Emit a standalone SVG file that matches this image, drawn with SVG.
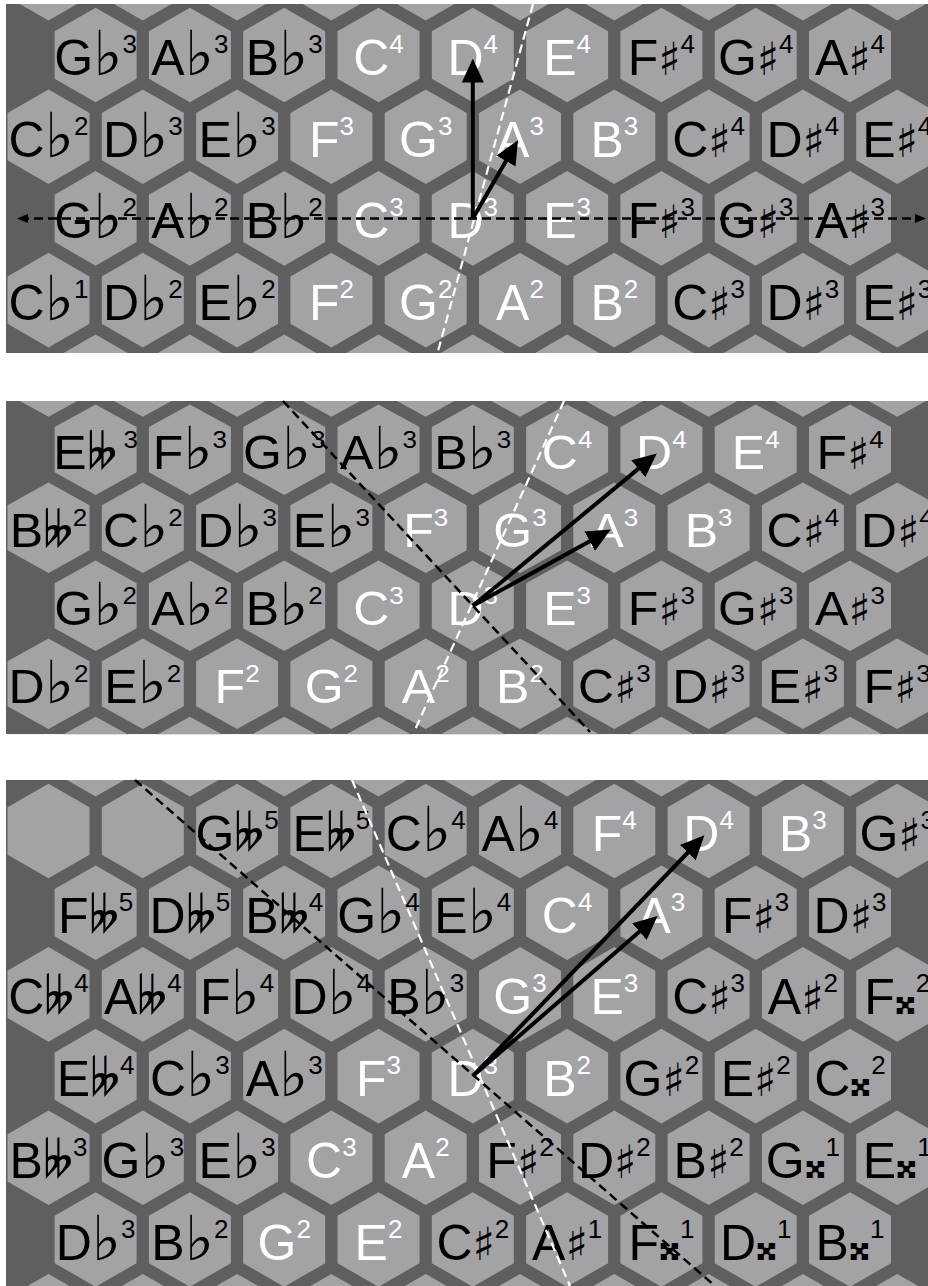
<svg xmlns="http://www.w3.org/2000/svg" xmlns:xlink="http://www.w3.org/1999/xlink" width="928" height="1286" viewBox="0 0 928 1286">
<style>
.bg{fill:#5f5f5f}
use{fill:#a3a3a6}
.t{font-family:"Liberation Sans",Arial,sans-serif;font-size:50px;text-anchor:middle}
.w{fill:#ffffff}
.k{fill:#000000}
.f{font-family:"DejaVu Sans",sans-serif;font-size:62px}
.h{font-family:"DejaVu Sans",sans-serif;font-size:46px}
.ff{font-family:"DejaVu Sans",sans-serif;font-size:50px}
.x{font-family:"DejaVu Sans",sans-serif;font-size:46px}
.s{font-size:26px}
.bd{stroke:#000;stroke-width:2.5;stroke-dasharray:9 5;fill:none}
.wd{stroke:#fff;stroke-width:2.2;stroke-dasharray:9 5;fill:none}
.ar{stroke:#000;stroke-width:4;fill:none;marker-end:url(#ah)}
</style>
<defs>
<path id="h" d="M0,-47.3L41,-23.65L41,23.65L0,47.3L-41,23.65L-41,-23.65Z"/>
<clipPath id="c1"><rect x="6" y="0" width="922" height="349"/></clipPath>
<clipPath id="c3"><rect x="6" y="0" width="922" height="506"/></clipPath>
<marker id="ah" markerUnits="userSpaceOnUse" markerWidth="24" markerHeight="22" refX="14" refY="11" orient="auto" viewBox="0 0 24 22"><path d="M0,0L24,11L0,22Z" fill="#000"/></marker>
<marker id="ahs" markerUnits="userSpaceOnUse" markerWidth="11" markerHeight="9" refX="8" refY="4.5" orient="auto-start-reverse" viewBox="0 0 11 9"><path d="M0,0L11,4.5L0,9Z" fill="#000"/></marker>
</defs>
<rect width="928" height="1286" fill="#fff"/>

<!-- PANEL 1 -->
<g id="panel1" transform="translate(0,4)" clip-path="url(#c1)">
<rect class="bg" x="6" y="0" width="922" height="349"/>
<g id="p1-edge">
<use href="#h" x="48.5" y="-30.7"/><use href="#h" x="142.8" y="-30.7"/><use href="#h" x="237.1" y="-30.7"/><use href="#h" x="331.4" y="-30.7"/><use href="#h" x="425.7" y="-30.7"/><use href="#h" x="520" y="-30.7"/><use href="#h" x="614.3" y="-30.7"/><use href="#h" x="708.6" y="-30.7"/><use href="#h" x="802.9" y="-30.7"/><use href="#h" x="897.2" y="-30.7"/>
<use href="#h" x="95.6" y="377.8"/><use href="#h" x="189.9" y="377.8"/><use href="#h" x="284.2" y="377.8"/><use href="#h" x="378.5" y="377.8"/><use href="#h" x="472.8" y="377.8"/><use href="#h" x="567.1" y="377.8"/><use href="#h" x="661.4" y="377.8"/><use href="#h" x="755.7" y="377.8"/><use href="#h" x="850" y="377.8"/>
</g>
<g id="p1-Gb3" transform="translate(95.6,51)"><use href="#h"/><text class="t k" y="20">G<tspan class="f">♭</tspan><tspan class="s" dy="-22">3</tspan></text></g>
<g id="p1-Ab3" transform="translate(189.9,51)"><use href="#h"/><text class="t k" y="20">A<tspan class="f">♭</tspan><tspan class="s" dy="-22">3</tspan></text></g>
<g id="p1-Bb3" transform="translate(284.2,51)"><use href="#h"/><text class="t k" y="20">B<tspan class="f">♭</tspan><tspan class="s" dy="-22">3</tspan></text></g>
<g id="p1-C4" transform="translate(378.5,51)"><use href="#h"/><text class="t w" y="20">C<tspan class="s" dy="-22">4</tspan></text></g>
<g id="p1-D4" transform="translate(472.8,51)"><use href="#h"/><text class="t w" y="20">D<tspan class="s" dy="-22">4</tspan></text></g>
<g id="p1-E4" transform="translate(567.1,51)"><use href="#h"/><text class="t w" y="20">E<tspan class="s" dy="-22">4</tspan></text></g>
<g id="p1-Fs4" transform="translate(661.4,51)"><use href="#h"/><text class="t k" y="20">F<tspan class="h">♯</tspan><tspan class="s" dy="-22">4</tspan></text></g>
<g id="p1-Gs4" transform="translate(755.7,51)"><use href="#h"/><text class="t k" y="20">G<tspan class="h">♯</tspan><tspan class="s" dy="-22">4</tspan></text></g>
<g id="p1-As4" transform="translate(850,51)"><use href="#h"/><text class="t k" y="20">A<tspan class="h">♯</tspan><tspan class="s" dy="-22">4</tspan></text></g>

<g id="p1-Cb2" transform="translate(48.5,132.7)"><use href="#h"/><text class="t k" y="20">C<tspan class="f">♭</tspan><tspan class="s" dy="-22">2</tspan></text></g>
<g id="p1-Db3" transform="translate(142.8,132.7)"><use href="#h"/><text class="t k" y="20">D<tspan class="f">♭</tspan><tspan class="s" dy="-22">3</tspan></text></g>
<g id="p1-Eb3" transform="translate(237.1,132.7)"><use href="#h"/><text class="t k" y="20">E<tspan class="f">♭</tspan><tspan class="s" dy="-22">3</tspan></text></g>
<g id="p1-F3" transform="translate(331.4,132.7)"><use href="#h"/><text class="t w" y="20">F<tspan class="s" dy="-22">3</tspan></text></g>
<g id="p1-G3" transform="translate(425.7,132.7)"><use href="#h"/><text class="t w" y="20">G<tspan class="s" dy="-22">3</tspan></text></g>
<g id="p1-A3" transform="translate(520,132.7)"><use href="#h"/><text class="t w" y="20">A<tspan class="s" dy="-22">3</tspan></text></g>
<g id="p1-B3" transform="translate(614.3,132.7)"><use href="#h"/><text class="t w" y="20">B<tspan class="s" dy="-22">3</tspan></text></g>
<g id="p1-Cs4" transform="translate(708.6,132.7)"><use href="#h"/><text class="t k" y="20">C<tspan class="h">♯</tspan><tspan class="s" dy="-22">4</tspan></text></g>
<g id="p1-Ds4" transform="translate(802.9,132.7)"><use href="#h"/><text class="t k" y="20">D<tspan class="h">♯</tspan><tspan class="s" dy="-22">4</tspan></text></g>
<g id="p1-Es4" transform="translate(897.2,132.7)"><use href="#h"/><text class="t k" y="20">E<tspan class="h">♯</tspan><tspan class="s" dy="-22">4</tspan></text></g>

<g id="p1-Gb2" transform="translate(95.6,214.4)"><use href="#h"/><text class="t k" y="20">G<tspan class="f">♭</tspan><tspan class="s" dy="-22">2</tspan></text></g>
<g id="p1-Ab2" transform="translate(189.9,214.4)"><use href="#h"/><text class="t k" y="20">A<tspan class="f">♭</tspan><tspan class="s" dy="-22">2</tspan></text></g>
<g id="p1-Bb2" transform="translate(284.2,214.4)"><use href="#h"/><text class="t k" y="20">B<tspan class="f">♭</tspan><tspan class="s" dy="-22">2</tspan></text></g>
<g id="p1-C3" transform="translate(378.5,214.4)"><use href="#h"/><text class="t w" y="20">C<tspan class="s" dy="-22">3</tspan></text></g>
<g id="p1-D3" transform="translate(472.8,214.4)"><use href="#h"/><text class="t w" y="20">D<tspan class="s" dy="-22">3</tspan></text></g>
<g id="p1-E3" transform="translate(567.1,214.4)"><use href="#h"/><text class="t w" y="20">E<tspan class="s" dy="-22">3</tspan></text></g>
<g id="p1-Fs3" transform="translate(661.4,214.4)"><use href="#h"/><text class="t k" y="20">F<tspan class="h">♯</tspan><tspan class="s" dy="-22">3</tspan></text></g>
<g id="p1-Gs3" transform="translate(755.7,214.4)"><use href="#h"/><text class="t k" y="20">G<tspan class="h">♯</tspan><tspan class="s" dy="-22">3</tspan></text></g>
<g id="p1-As3" transform="translate(850,214.4)"><use href="#h"/><text class="t k" y="20">A<tspan class="h">♯</tspan><tspan class="s" dy="-22">3</tspan></text></g>

<g id="p1-Cb1" transform="translate(48.5,296.1)"><use href="#h"/><text class="t k" y="20">C<tspan class="f">♭</tspan><tspan class="s" dy="-22">1</tspan></text></g>
<g id="p1-Db2" transform="translate(142.8,296.1)"><use href="#h"/><text class="t k" y="20">D<tspan class="f">♭</tspan><tspan class="s" dy="-22">2</tspan></text></g>
<g id="p1-Eb2" transform="translate(237.1,296.1)"><use href="#h"/><text class="t k" y="20">E<tspan class="f">♭</tspan><tspan class="s" dy="-22">2</tspan></text></g>
<g id="p1-F2" transform="translate(331.4,296.1)"><use href="#h"/><text class="t w" y="20">F<tspan class="s" dy="-22">2</tspan></text></g>
<g id="p1-G2" transform="translate(425.7,296.1)"><use href="#h"/><text class="t w" y="20">G<tspan class="s" dy="-22">2</tspan></text></g>
<g id="p1-A2" transform="translate(520,296.1)"><use href="#h"/><text class="t w" y="20">A<tspan class="s" dy="-22">2</tspan></text></g>
<g id="p1-B2" transform="translate(614.3,296.1)"><use href="#h"/><text class="t w" y="20">B<tspan class="s" dy="-22">2</tspan></text></g>
<g id="p1-Cs3" transform="translate(708.6,296.1)"><use href="#h"/><text class="t k" y="20">C<tspan class="h">♯</tspan><tspan class="s" dy="-22">3</tspan></text></g>
<g id="p1-Ds3" transform="translate(802.9,296.1)"><use href="#h"/><text class="t k" y="20">D<tspan class="h">♯</tspan><tspan class="s" dy="-22">3</tspan></text></g>
<g id="p1-Es3" transform="translate(897.2,296.1)"><use href="#h"/><text class="t k" y="20">E<tspan class="h">♯</tspan><tspan class="s" dy="-22">3</tspan></text></g>
</g>

<!-- PANEL 2 -->
<g id="panel2" transform="translate(0,401) scale(1,0.955)" clip-path="url(#c1)">
<rect class="bg" x="6" y="0" width="922" height="349"/>
<g id="p2-edge">
<use href="#h" x="48.5" y="-30.7"/><use href="#h" x="142.8" y="-30.7"/><use href="#h" x="237.1" y="-30.7"/><use href="#h" x="331.4" y="-30.7"/><use href="#h" x="425.7" y="-30.7"/><use href="#h" x="520" y="-30.7"/><use href="#h" x="614.3" y="-30.7"/><use href="#h" x="708.6" y="-30.7"/><use href="#h" x="802.9" y="-30.7"/><use href="#h" x="897.2" y="-30.7"/>
<use href="#h" x="95.6" y="377.8"/><use href="#h" x="189.9" y="377.8"/><use href="#h" x="284.2" y="377.8"/><use href="#h" x="378.5" y="377.8"/><use href="#h" x="472.8" y="377.8"/><use href="#h" x="567.1" y="377.8"/><use href="#h" x="661.4" y="377.8"/><use href="#h" x="755.7" y="377.8"/><use href="#h" x="850" y="377.8"/>
</g>
<g id="p2-Ebb3" transform="translate(95.6,51)"><use href="#h"/><text class="t k" y="20">E<tspan class="ff">𝄫</tspan><tspan class="s" dy="-22"> 3</tspan></text></g>
<g id="p2-Fb3" transform="translate(189.9,51)"><use href="#h"/><text class="t k" y="20">F<tspan class="f">♭</tspan><tspan class="s" dy="-22">3</tspan></text></g>
<g id="p2-Gb3" transform="translate(284.2,51)"><use href="#h"/><text class="t k" y="20">G<tspan class="f">♭</tspan><tspan class="s" dy="-22">3</tspan></text></g>
<g id="p2-Ab3" transform="translate(378.5,51)"><use href="#h"/><text class="t k" y="20">A<tspan class="f">♭</tspan><tspan class="s" dy="-22">3</tspan></text></g>
<g id="p2-Bb3" transform="translate(472.8,51)"><use href="#h"/><text class="t k" y="20">B<tspan class="f">♭</tspan><tspan class="s" dy="-22">3</tspan></text></g>
<g id="p2-C4" transform="translate(567.1,51)"><use href="#h"/><text class="t w" y="20">C<tspan class="s" dy="-22">4</tspan></text></g>
<g id="p2-D4" transform="translate(661.4,51)"><use href="#h"/><text class="t w" y="20">D<tspan class="s" dy="-22">4</tspan></text></g>
<g id="p2-E4" transform="translate(755.7,51)"><use href="#h"/><text class="t w" y="20">E<tspan class="s" dy="-22">4</tspan></text></g>
<g id="p2-Fs4" transform="translate(850,51)"><use href="#h"/><text class="t k" y="20">F<tspan class="h">♯</tspan><tspan class="s" dy="-22">4</tspan></text></g>

<g id="p2-Bbb2" transform="translate(48.5,132.7)"><use href="#h"/><text class="t k" y="20">B<tspan class="ff">𝄫</tspan><tspan class="s" dy="-22">2</tspan></text></g>
<g id="p2-Cb2" transform="translate(142.8,132.7)"><use href="#h"/><text class="t k" y="20">C<tspan class="f">♭</tspan><tspan class="s" dy="-22">2</tspan></text></g>
<g id="p2-Db3" transform="translate(237.1,132.7)"><use href="#h"/><text class="t k" y="20">D<tspan class="f">♭</tspan><tspan class="s" dy="-22">3</tspan></text></g>
<g id="p2-Eb3" transform="translate(331.4,132.7)"><use href="#h"/><text class="t k" y="20">E<tspan class="f">♭</tspan><tspan class="s" dy="-22">3</tspan></text></g>
<g id="p2-F3" transform="translate(425.7,132.7)"><use href="#h"/><text class="t w" y="20">F<tspan class="s" dy="-22">3</tspan></text></g>
<g id="p2-G3" transform="translate(520,132.7)"><use href="#h"/><text class="t w" y="20">G<tspan class="s" dy="-22">3</tspan></text></g>
<g id="p2-A3" transform="translate(614.3,132.7)"><use href="#h"/><text class="t w" y="20">A<tspan class="s" dy="-22">3</tspan></text></g>
<g id="p2-B3" transform="translate(708.6,132.7)"><use href="#h"/><text class="t w" y="20">B<tspan class="s" dy="-22">3</tspan></text></g>
<g id="p2-Cs4" transform="translate(802.9,132.7)"><use href="#h"/><text class="t k" y="20">C<tspan class="h">♯</tspan><tspan class="s" dy="-22">4</tspan></text></g>
<g id="p2-Ds4" transform="translate(897.2,132.7)"><use href="#h"/><text class="t k" y="20">D<tspan class="h">♯</tspan><tspan class="s" dy="-22">4</tspan></text></g>

<g id="p2-Gb2" transform="translate(95.6,214.4)"><use href="#h"/><text class="t k" y="20">G<tspan class="f">♭</tspan><tspan class="s" dy="-22">2</tspan></text></g>
<g id="p2-Ab2" transform="translate(189.9,214.4)"><use href="#h"/><text class="t k" y="20">A<tspan class="f">♭</tspan><tspan class="s" dy="-22">2</tspan></text></g>
<g id="p2-Bb2" transform="translate(284.2,214.4)"><use href="#h"/><text class="t k" y="20">B<tspan class="f">♭</tspan><tspan class="s" dy="-22">2</tspan></text></g>
<g id="p2-C3" transform="translate(378.5,214.4)"><use href="#h"/><text class="t w" y="20">C<tspan class="s" dy="-22">3</tspan></text></g>
<g id="p2-D3" transform="translate(472.8,214.4)"><use href="#h"/><text class="t w" y="20">D<tspan class="s" dy="-22">3</tspan></text></g>
<g id="p2-E3" transform="translate(567.1,214.4)"><use href="#h"/><text class="t w" y="20">E<tspan class="s" dy="-22">3</tspan></text></g>
<g id="p2-Fs3a" transform="translate(661.4,214.4)"><use href="#h"/><text class="t k" y="20">F<tspan class="h">♯</tspan><tspan class="s" dy="-22">3</tspan></text></g>
<g id="p2-Gs3" transform="translate(755.7,214.4)"><use href="#h"/><text class="t k" y="20">G<tspan class="h">♯</tspan><tspan class="s" dy="-22">3</tspan></text></g>
<g id="p2-As3" transform="translate(850,214.4)"><use href="#h"/><text class="t k" y="20">A<tspan class="h">♯</tspan><tspan class="s" dy="-22">3</tspan></text></g>

<g id="p2-Db2" transform="translate(48.5,296.1)"><use href="#h"/><text class="t k" y="20">D<tspan class="f">♭</tspan><tspan class="s" dy="-22">2</tspan></text></g>
<g id="p2-Eb2" transform="translate(142.8,296.1)"><use href="#h"/><text class="t k" y="20">E<tspan class="f">♭</tspan><tspan class="s" dy="-22">2</tspan></text></g>
<g id="p2-F2" transform="translate(237.1,296.1)"><use href="#h"/><text class="t w" y="20">F<tspan class="s" dy="-22">2</tspan></text></g>
<g id="p2-G2" transform="translate(331.4,296.1)"><use href="#h"/><text class="t w" y="20">G<tspan class="s" dy="-22">2</tspan></text></g>
<g id="p2-A2" transform="translate(425.7,296.1)"><use href="#h"/><text class="t w" y="20">A<tspan class="s" dy="-22">2</tspan></text></g>
<g id="p2-B2" transform="translate(520,296.1)"><use href="#h"/><text class="t w" y="20">B<tspan class="s" dy="-22">2</tspan></text></g>
<g id="p2-Cs3" transform="translate(614.3,296.1)"><use href="#h"/><text class="t k" y="20">C<tspan class="h">♯</tspan><tspan class="s" dy="-22">3</tspan></text></g>
<g id="p2-Ds3" transform="translate(708.6,296.1)"><use href="#h"/><text class="t k" y="20">D<tspan class="h">♯</tspan><tspan class="s" dy="-22">3</tspan></text></g>
<g id="p2-Es3" transform="translate(802.9,296.1)"><use href="#h"/><text class="t k" y="20">E<tspan class="h">♯</tspan><tspan class="s" dy="-22">3</tspan></text></g>
<g id="p2-Fs3b" transform="translate(897.2,296.1)"><use href="#h"/><text class="t k" y="20">F<tspan class="h">♯</tspan><tspan class="s" dy="-22">3</tspan></text></g>
</g>

<!-- PANEL 3 -->
<g id="panel3" transform="translate(0,780)" clip-path="url(#c3)">
<rect class="bg" x="6" y="0" width="922" height="506"/>
<g id="p3-edge">
<use href="#h" x="95.6" y="-30.7"/><use href="#h" x="189.9" y="-30.7"/><use href="#h" x="284.2" y="-30.7"/><use href="#h" x="378.5" y="-30.7"/><use href="#h" x="472.8" y="-30.7"/><use href="#h" x="567.1" y="-30.7"/><use href="#h" x="661.4" y="-30.7"/><use href="#h" x="755.7" y="-30.7"/><use href="#h" x="850" y="-30.7"/>
<use href="#h" x="48.5" y="541.2"/><use href="#h" x="142.8" y="541.2"/><use href="#h" x="237.1" y="541.2"/><use href="#h" x="331.4" y="541.2"/><use href="#h" x="425.7" y="541.2"/><use href="#h" x="520" y="541.2"/><use href="#h" x="614.3" y="541.2"/><use href="#h" x="708.6" y="541.2"/><use href="#h" x="802.9" y="541.2"/><use href="#h" x="897.2" y="541.2"/>
<use href="#h" x="48.5" y="51"/><use href="#h" x="142.8" y="51"/>
</g>
<g id="p3-Gbb5" transform="translate(237.1,51)"><use href="#h"/><text class="t k" y="20">G<tspan class="ff">𝄫</tspan><tspan class="s" dy="-22">5</tspan></text></g>
<g id="p3-Ebb5" transform="translate(331.4,51)"><use href="#h"/><text class="t k" y="20">E<tspan class="ff">𝄫</tspan><tspan class="s" dy="-22">5</tspan></text></g>
<g id="p3-Cb4" transform="translate(425.7,51)"><use href="#h"/><text class="t k" y="20">C<tspan class="f">♭</tspan><tspan class="s" dy="-22">4</tspan></text></g>
<g id="p3-Ab4" transform="translate(520,51)"><use href="#h"/><text class="t k" y="20">A<tspan class="f">♭</tspan><tspan class="s" dy="-22">4</tspan></text></g>
<g id="p3-F4" transform="translate(614.3,51)"><use href="#h"/><text class="t w" y="20">F<tspan class="s" dy="-22">4</tspan></text></g>
<g id="p3-D4" transform="translate(708.6,51)"><use href="#h"/><text class="t w" y="20">D<tspan class="s" dy="-22">4</tspan></text></g>
<g id="p3-B3" transform="translate(802.9,51)"><use href="#h"/><text class="t w" y="20">B<tspan class="s" dy="-22">3</tspan></text></g>
<g id="p3-Gs3" transform="translate(897.2,51)"><use href="#h"/><text class="t k" y="20">G<tspan class="h">♯</tspan><tspan class="s" dy="-22">3</tspan></text></g>

<g id="p3-Fbb5" transform="translate(95.6,132.7)"><use href="#h"/><text class="t k" y="20">F<tspan class="ff">𝄫</tspan><tspan class="s" dy="-22">5</tspan></text></g>
<g id="p3-Dbb5" transform="translate(189.9,132.7)"><use href="#h"/><text class="t k" y="20">D<tspan class="ff">𝄫</tspan><tspan class="s" dy="-22">5</tspan></text></g>
<g id="p3-Bbb4" transform="translate(284.2,132.7)"><use href="#h"/><text class="t k" y="20">B<tspan class="ff">𝄫</tspan><tspan class="s" dy="-22">4</tspan></text></g>
<g id="p3-Gb4" transform="translate(378.5,132.7)"><use href="#h"/><text class="t k" y="20">G<tspan class="f">♭</tspan><tspan class="s" dy="-22">4</tspan></text></g>
<g id="p3-Eb4" transform="translate(472.8,132.7)"><use href="#h"/><text class="t k" y="20">E<tspan class="f">♭</tspan><tspan class="s" dy="-22">4</tspan></text></g>
<g id="p3-C4" transform="translate(567.1,132.7)"><use href="#h"/><text class="t w" y="20">C<tspan class="s" dy="-22">4</tspan></text></g>
<g id="p3-A3" transform="translate(661.4,132.7)"><use href="#h"/><text class="t w" y="20">A<tspan class="s" dy="-22">3</tspan></text></g>
<g id="p3-Fs3" transform="translate(755.7,132.7)"><use href="#h"/><text class="t k" y="20">F<tspan class="h">♯</tspan><tspan class="s" dy="-22">3</tspan></text></g>
<g id="p3-Ds3" transform="translate(850,132.7)"><use href="#h"/><text class="t k" y="20">D<tspan class="h">♯</tspan><tspan class="s" dy="-22">3</tspan></text></g>

<g id="p3-Cbb4" transform="translate(48.5,214.4)"><use href="#h"/><text class="t k" y="20">C<tspan class="ff">𝄫</tspan><tspan class="s" dy="-22">4</tspan></text></g>
<g id="p3-Abb4" transform="translate(142.8,214.4)"><use href="#h"/><text class="t k" y="20">A<tspan class="ff">𝄫</tspan><tspan class="s" dy="-22">4</tspan></text></g>
<g id="p3-Fb4" transform="translate(237.1,214.4)"><use href="#h"/><text class="t k" y="20">F<tspan class="f">♭</tspan><tspan class="s" dy="-22">4</tspan></text></g>
<g id="p3-Db4" transform="translate(331.4,214.4)"><use href="#h"/><text class="t k" y="20">D<tspan class="f">♭</tspan><tspan class="s" dy="-22">4</tspan></text></g>
<g id="p3-Bb3" transform="translate(425.7,214.4)"><use href="#h"/><text class="t k" y="20">B<tspan class="f">♭</tspan><tspan class="s" dy="-22">3</tspan></text></g>
<g id="p3-G3" transform="translate(520,214.4)"><use href="#h"/><text class="t w" y="20">G<tspan class="s" dy="-22">3</tspan></text></g>
<g id="p3-E3" transform="translate(614.3,214.4)"><use href="#h"/><text class="t w" y="20">E<tspan class="s" dy="-22">3</tspan></text></g>
<g id="p3-Cs3" transform="translate(708.6,214.4)"><use href="#h"/><text class="t k" y="20">C<tspan class="h">♯</tspan><tspan class="s" dy="-22">3</tspan></text></g>
<g id="p3-As2" transform="translate(802.9,214.4)"><use href="#h"/><text class="t k" y="20">A<tspan class="h">♯</tspan><tspan class="s" dy="-22">2</tspan></text></g>
<g id="p3-Fx2" transform="translate(897.2,214.4)"><use href="#h"/><text class="t k" y="20">F<tspan class="x">𝄪</tspan><tspan class="s" dy="-22">2</tspan></text></g>

<g id="p3-Ebb4" transform="translate(95.6,296.1)"><use href="#h"/><text class="t k" y="20">E<tspan class="ff">𝄫</tspan><tspan class="s" dy="-22">4</tspan></text></g>
<g id="p3-Cb3" transform="translate(189.9,296.1)"><use href="#h"/><text class="t k" y="20">C<tspan class="f">♭</tspan><tspan class="s" dy="-22">3</tspan></text></g>
<g id="p3-Ab3" transform="translate(284.2,296.1)"><use href="#h"/><text class="t k" y="20">A<tspan class="f">♭</tspan><tspan class="s" dy="-22">3</tspan></text></g>
<g id="p3-F3" transform="translate(378.5,296.1)"><use href="#h"/><text class="t w" y="20">F<tspan class="s" dy="-22">3</tspan></text></g>
<g id="p3-D3" transform="translate(472.8,296.1)"><use href="#h"/><text class="t w" y="20">D<tspan class="s" dy="-22">3</tspan></text></g>
<g id="p3-B2" transform="translate(567.1,296.1)"><use href="#h"/><text class="t w" y="20">B<tspan class="s" dy="-22">2</tspan></text></g>
<g id="p3-Gs2" transform="translate(661.4,296.1)"><use href="#h"/><text class="t k" y="20">G<tspan class="h">♯</tspan><tspan class="s" dy="-22">2</tspan></text></g>
<g id="p3-Es2" transform="translate(755.7,296.1)"><use href="#h"/><text class="t k" y="20">E<tspan class="h">♯</tspan><tspan class="s" dy="-22">2</tspan></text></g>
<g id="p3-Cx2" transform="translate(850,296.1)"><use href="#h"/><text class="t k" y="20">C<tspan class="x">𝄪</tspan><tspan class="s" dy="-22">2</tspan></text></g>

<g id="p3-Bbb3" transform="translate(48.5,377.8)"><use href="#h"/><text class="t k" y="20">B<tspan class="ff">𝄫</tspan><tspan class="s" dy="-22">3</tspan></text></g>
<g id="p3-Gb3" transform="translate(142.8,377.8)"><use href="#h"/><text class="t k" y="20">G<tspan class="f">♭</tspan><tspan class="s" dy="-22">3</tspan></text></g>
<g id="p3-Eb3" transform="translate(237.1,377.8)"><use href="#h"/><text class="t k" y="20">E<tspan class="f">♭</tspan><tspan class="s" dy="-22">3</tspan></text></g>
<g id="p3-C3" transform="translate(331.4,377.8)"><use href="#h"/><text class="t w" y="20">C<tspan class="s" dy="-22">3</tspan></text></g>
<g id="p3-A2" transform="translate(425.7,377.8)"><use href="#h"/><text class="t w" y="20">A<tspan class="s" dy="-22">2</tspan></text></g>
<g id="p3-Fs2" transform="translate(520,377.8)"><use href="#h"/><text class="t k" y="20">F<tspan class="h">♯</tspan><tspan class="s" dy="-22">2</tspan></text></g>
<g id="p3-Ds2" transform="translate(614.3,377.8)"><use href="#h"/><text class="t k" y="20">D<tspan class="h">♯</tspan><tspan class="s" dy="-22">2</tspan></text></g>
<g id="p3-Bs2" transform="translate(708.6,377.8)"><use href="#h"/><text class="t k" y="20">B<tspan class="h">♯</tspan><tspan class="s" dy="-22">2</tspan></text></g>
<g id="p3-Gx1" transform="translate(802.9,377.8)"><use href="#h"/><text class="t k" y="20">G<tspan class="x">𝄪</tspan><tspan class="s" dy="-22">1</tspan></text></g>
<g id="p3-Ex1" transform="translate(897.2,377.8)"><use href="#h"/><text class="t k" y="20">E<tspan class="x">𝄪</tspan><tspan class="s" dy="-22">1</tspan></text></g>

<g id="p3-Db3" transform="translate(95.6,459.5)"><use href="#h"/><text class="t k" y="20">D<tspan class="f">♭</tspan><tspan class="s" dy="-22">3</tspan></text></g>
<g id="p3-Bb2" transform="translate(189.9,459.5)"><use href="#h"/><text class="t k" y="20">B<tspan class="f">♭</tspan><tspan class="s" dy="-22">2</tspan></text></g>
<g id="p3-G2" transform="translate(284.2,459.5)"><use href="#h"/><text class="t w" y="20">G<tspan class="s" dy="-22">2</tspan></text></g>
<g id="p3-E2" transform="translate(378.5,459.5)"><use href="#h"/><text class="t w" y="20">E<tspan class="s" dy="-22">2</tspan></text></g>
<g id="p3-Cs2" transform="translate(472.8,459.5)"><use href="#h"/><text class="t k" y="20">C<tspan class="h">♯</tspan><tspan class="s" dy="-22">2</tspan></text></g>
<g id="p3-As1" transform="translate(567.1,459.5)"><use href="#h"/><text class="t k" y="20">A<tspan class="h">♯</tspan><tspan class="s" dy="-22">1</tspan></text></g>
<g id="p3-Fx1" transform="translate(661.4,459.5)"><use href="#h"/><text class="t k" y="20">F<tspan class="x">𝄪</tspan><tspan class="s" dy="-22">1</tspan></text></g>
<g id="p3-Dx1" transform="translate(755.7,459.5)"><use href="#h"/><text class="t k" y="20">D<tspan class="x">𝄪</tspan><tspan class="s" dy="-22">1</tspan></text></g>
<g id="p3-Bx1" transform="translate(850,459.5)"><use href="#h"/><text class="t k" y="20">B<tspan class="x">𝄪</tspan><tspan class="s" dy="-22">1</tspan></text></g>
</g>

<!-- CONNECTORS -->
<g id="connectors">
<line class="wd" x1="533" y1="4" x2="437.5" y2="353"/>
<line class="bd" x1="20" y1="218.4" x2="923" y2="218.4" marker-start="url(#ahs)" marker-end="url(#ahs)"/>
<line class="ar" x1="472.8" y1="218.4" x2="472.8" y2="68.5"/>
<line class="ar" x1="472.8" y1="218.4" x2="513" y2="148.9"/>

<line class="bd" x1="283" y1="401" x2="590" y2="732"/>
<line class="wd" x1="564" y1="401" x2="414" y2="732"/>
<line class="ar" x1="472.8" y1="605.8" x2="649.1" y2="459.9"/>
<line class="ar" x1="472.8" y1="605.8" x2="602" y2="534.4"/>

<line class="bd" x1="135" y1="780" x2="715" y2="1286"/>
<line class="wd" x1="352" y1="780" x2="570" y2="1286"/>
<line class="ar" x1="472.8" y1="1076.1" x2="697.5" y2="842.5"/>
<line class="ar" x1="472.8" y1="1076.1" x2="650" y2="922.5"/>
</g>
</svg>
